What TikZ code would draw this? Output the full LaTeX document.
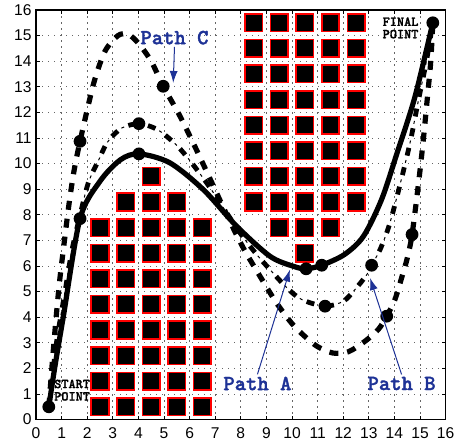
\documentclass[tikz,border=0pt]{standalone}
\usepackage{fontspec}
\setmainfont{Liberation Sans}
\newfontfamily\tagfont{lmmonolt10-bold.otf}[FakeBold=1.6]
\usetikzlibrary{positioning, arrows.meta}
\definecolor{pathblue}{RGB}{30,50,150}

\begin{document}
\begin{tikzpicture}[
    x=12.8pt, y=12.8pt,
    gridline/.style={black!60, line width=0.4pt, dash pattern=on 0.6pt off 2.4pt},
    obstacle/.style={fill=black, draw=red, line width=0.8pt},
    waypt/.style={fill=black},
    pathAline/.style={line width=2.6pt},
    pathBline/.style={line width=2.4pt, dash pattern=on 4pt off 6pt},
    pathBdot/.style={line width=0.5pt, dash pattern=on 0pt off 6.25pt on 1.5pt off 2.25pt},
    pathCline/.style={line width=2.6pt, dash pattern=on 4.5pt off 4.5pt},
    tag/.style={font=\tagfont\fontsize{10.8}{12}\selectfont, text=pathblue, inner sep=1pt},
    endtag/.style={font=\tagfont\fontsize{6.8}{6.2}\selectfont, align=center, inner sep=0pt},
    tagarr/.style={-{Latex[length=6pt, width=4pt]}, pathblue, line width=0.5pt},
    ticklbl/.style={font=\fontsize{7.8}{9}\selectfont, inner sep=0pt}
]
\useasboundingbox (-1.40625,-0.9766) rectangle (16.7578,16.3906);
\foreach \i in {1,...,15} {
  \draw[gridline] (\i,0) -- (\i,16);
  \draw[gridline] (0,\i) -- (16,\i);
}
\foreach \col/\top in {2/7,3/8,4/9,5/8,6/7}
  \foreach \row in {0,...,\top}
    \draw[obstacle] (\col+0.16,\row+0.16) rectangle ++(0.68,0.68);
\foreach \col in {8,...,12}
  \foreach \row in {8,...,15}
    \draw[obstacle] (\col+0.16,\row+0.16) rectangle ++(0.68,0.68);
\foreach \col/\row in {9/7,10/7,11/7,10/6}
  \draw[obstacle] (\col+0.16,\row+0.16) rectangle ++(0.68,0.68);
\def\pathC{(0.5,0.5) (0.7,3.0) (0.9,5.2) (1.1,6.9) (1.3,8.5) (1.5,9.8) (1.72,10.87) (2.0,12.1) (2.3,13.3) (2.7,14.4) (3.2,15.0) (3.6,15.05) (4.0,14.7) (4.5,14.0) (4.97,13.02) (5.6,11.9) (6.2,10.68) (6.8,9.4) (7.5,7.9) (8.1,6.7) (8.75,5.6) (9.4,4.55) (10.0,3.75) (10.5,3.25) (11.0,2.85) (11.6,2.6) (12.2,2.65) (12.85,3.06) (13.37,3.52) (13.7,4.04) (14.02,4.69) (14.3,5.6) (14.5,6.3) (14.69,7.23) (14.95,9.3) (15.13,10.94) (15.3,12.7) (15.42,14.0) (15.5,15.5)}
\def\pathB{(0.5,0.5) (0.8,3.0) (1.15,5.1) (1.4,6.6) (1.7,7.9) (2.04,9.24) (2.43,10.1) (2.8,10.85) (3.35,11.39) (4.02,11.56) (4.6,11.4) (5.0,11.15) (5.56,10.65) (6.08,10.03) (6.7,9.2) (7.3,8.3) (8.0,7.25) (8.62,6.45) (9.14,5.86) (9.8,5.15) (10.38,4.69) (11.29,4.43) (12.0,4.62) (12.46,5.08) (12.92,5.66) (13.11,6.03) (13.44,6.64) (13.8,7.6) (14.2,9.1) (14.61,10.81) (14.93,12.43) (15.25,14.0) (15.5,15.5)}
\def\pathA{(0.5,0.5) (0.74,2.08) (1.07,4.04) (1.72,7.85) (2.5,9.31) (3.3,10.15) (4.02,10.38) (5.23,10.03) (6.54,8.98) (7.84,7.55) (9.14,6.38) (10.05,5.99) (10.55,5.89) (11.16,6.03) (12.05,6.45) (12.79,7.16) (13.5,8.6) (14.1,10.4) (14.8,12.6) (15.5,15.5)}
\draw[pathCline] plot[smooth, tension=0.5] coordinates {\pathC};
\draw[pathBline] plot[smooth, tension=0.5] coordinates {\pathB};
\draw[pathBdot] plot[smooth, tension=0.5] coordinates {\pathB};
\draw[pathAline] plot[smooth, tension=0.5] coordinates {\pathA};
\foreach \px/\py in {0.5/0.5, 15.5/15.5, 1.72/7.85, 4.02/10.38, 10.55/5.89, 11.16/6.03, 4.02/11.56, 11.29/4.43, 13.11/6.03, 1.72/10.87, 4.97/13.02, 13.7/4.04, 14.69/7.23}
  \fill[waypt] (\px,\py) circle (3.2pt);
\draw[line width=0.8pt] (0,0) rectangle (16,16);
\foreach \i in {0,...,16} {
  \draw (\i,0) -- (\i,0.16);
  \draw (\i,16) -- (\i,15.84);
  \draw (0,\i) -- (0.16,\i);
  \draw (16,\i) -- (15.84,\i);
  \node[ticklbl, anchor=north] (xl\i) at (\i,-0.31) {\i};
  \node[ticklbl, anchor=east] (yl\i) at (-0.16,\i) {\i};
}
\node[endtag] (start) at (1.41,1.15) {START\\POINT};
\node[endtag] (final) at (14.24,15.3) {FINAL\\POINT};
\node[tag] (tagA) at (8.65,1.41) {Path A};
\node[tag] (tagB) at (14.28,1.41) {Path B};
\node[tag] (tagC) at (5.41,14.92) {Path C};
\coordinate (tipA) at (9.92,5.86);
\coordinate (tipB) at (13.05,5.53);
\coordinate (tipC) at (5.36,13.15);
\draw[tagarr] (tagA.north) -- (tipA);
\draw[tagarr] (tagB.north) -- (tipB);
\draw[tagarr] (tagC.south) -- (tipC);
\end{tikzpicture}
\end{document}
